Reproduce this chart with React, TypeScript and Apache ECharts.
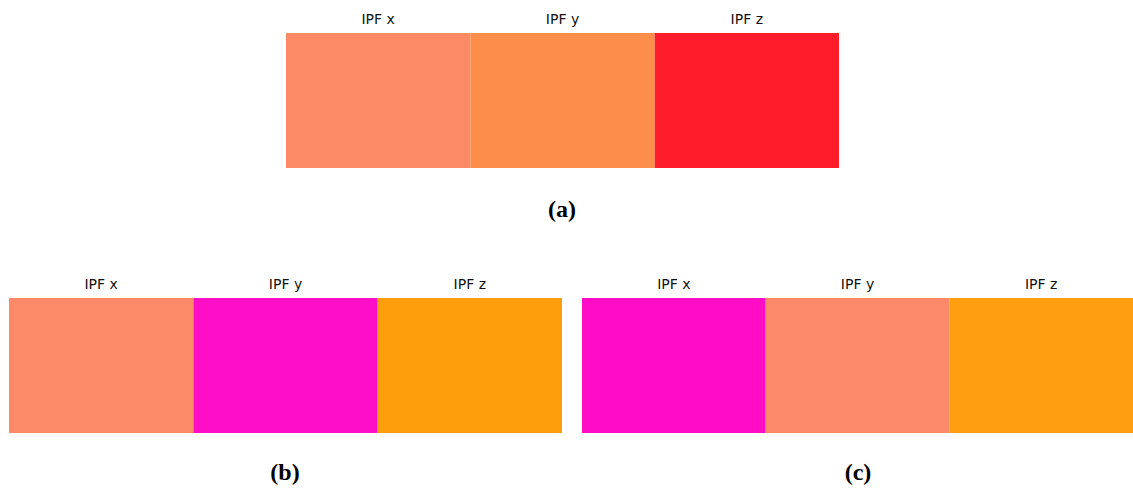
import React, { useEffect, useRef } from "react";
import * as echarts from "echarts";

const components = ["IPF x", "IPF y", "IPF z"];
const panelLabels = ["(a)", "(b)", "(c)"];
// mean colour of each IPF map, per panel
const colorsA = ["#FC8A64", "#FD8E4A", "#FF1D2C"];
const colorsB = ["#FC8A68", "#FF0EC8", "#FF9E0C"];
const colorsC = ["#FF0CC6", "#FC8A6A", "#FF9F10"];
const fill = [1, 1, 1];

const grids = [
  { left: 286, top: 33, width: 553, height: 135 },
  { left: 9, top: 298, width: 553, height: 135 },
  { left: 582, top: 298, width: 551, height: 135 },
];
const labelPos = [
  { x: 562, y: 209 },
  { x: 285, y: 472 },
  { x: 858, y: 472 },
];

export default function App() {
  const ref = useRef<HTMLDivElement>(null);
  useEffect(() => {
    if (!ref.current) return;
    const chart = echarts.init(ref.current, undefined, { renderer: "svg" });
    const palettes = [colorsA, colorsB, colorsC];
    chart.setOption({
      animation: false,
      grid: grids.map((g) => ({ ...g, containLabel: false })),
      xAxis: grids.map((_, i) => ({
        type: "category",
        gridIndex: i,
        position: "top",
        data: components,
        axisLine: { show: false },
        axisTick: { show: false },
        axisLabel: {
          color: "#111",
          fontSize: 14,
          fontFamily: "DejaVu Sans",
          margin: 7,
        },
      })),
      yAxis: grids.map((_, i) => ({
        type: "value",
        gridIndex: i,
        min: 0,
        max: 1,
        show: false,
        splitLine: { show: false },
      })),
      series: palettes.map((pal, i) => ({
        type: "bar",
        xAxisIndex: i,
        yAxisIndex: i,
        barCategoryGap: 0,
        barWidth: "100%",
        silent: true,
        data: fill.map((v, j) => ({ value: v, itemStyle: { color: pal[j] } })),
      })),
      graphic: panelLabels.map((t, i) => ({
        type: "text",
        x: labelPos[i].x,
        y: labelPos[i].y,
        style: {
          text: t,
          fill: "#000",
          font: "bold 24px 'Liberation Serif'",
          textAlign: "center",
          textVerticalAlign: "middle",
        },
      })),
    });
    return () => chart.dispose();
  }, []);
  return (
    <div
      ref={ref}
      style={{ position: "absolute", left: 0, top: 0, width: 1133, height: 488 }}
    />
  );
}
